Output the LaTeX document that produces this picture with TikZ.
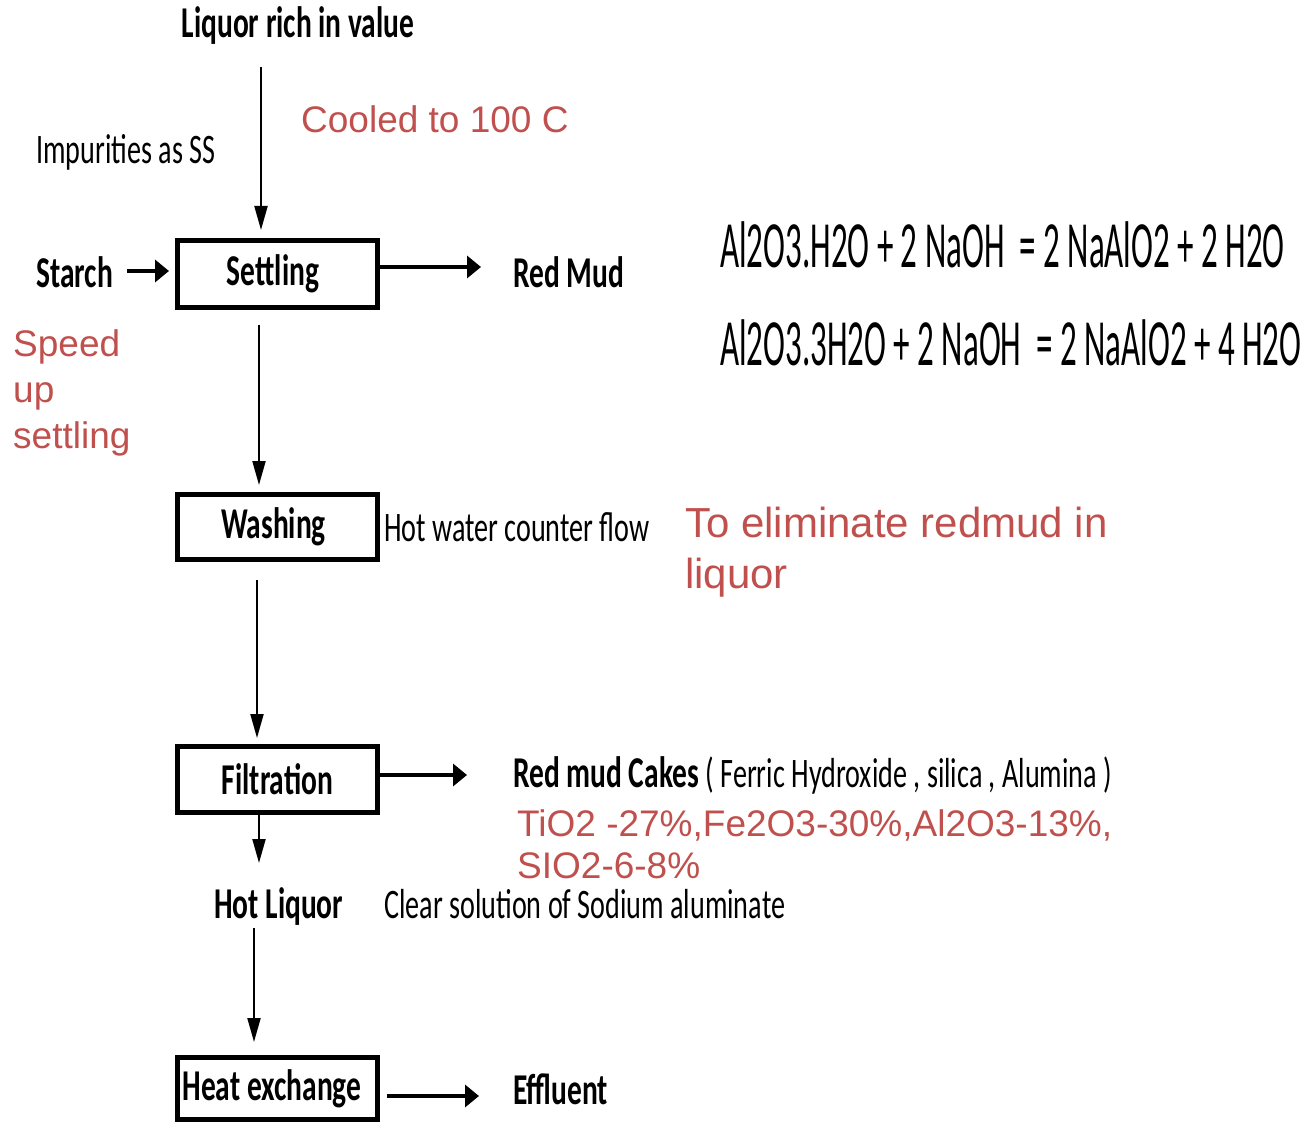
\documentclass[tikz,border=0pt]{standalone}
\usepackage{fontspec}
\usetikzlibrary{arrows.meta}
\newfontfamily\cnd[FakeStretch=0.67]{Carlito}
\newfontfamily\eqf[FakeStretch=0.5]{Carlito}
\setmainfont{Liberation Sans}
\definecolor{note}{HTML}{C0504D}
\tikzset{
  lbl/.style={inner sep=0pt, font=\cnd\fontsize{42}{48}\selectfont},
  blbl/.style={inner sep=0pt, font=\cnd\bfseries\fontsize{44}{50}\selectfont},
  rnote/.style={inner sep=0pt, text=note, font=\fontsize{37}{46}\selectfont, align=left},
  stage/.style={draw, line width=5pt, minimum width=200pt, inner sep=0pt,
    font=\cnd\bfseries\fontsize{44}{50}\selectfont},
  varrow/.style={line width=2pt, -{Triangle[length=24pt,width=13pt]}},
  harrow/.style={line width=3.5pt, -{Triangle[length=14pt,width=22pt]}}
}
\begin{document}
\begin{tikzpicture}[x=1pt,y=-1pt]
\useasboundingbox (0,0) rectangle (1307,1123);

% process stages
\node[stage, minimum height=67pt] (set) at (277.5,274) {Settling\hspace*{9pt}};
\node[stage, minimum height=65pt] (wash) at (277.5,527) {Washing\hspace*{8pt}};
\node[stage, minimum height=66pt] (filt) at (277.5,779.5) {Filtration};
\node[stage, minimum height=62pt] (heat) at (277.5,1088.5) {Heat exchange\hspace*{11pt}};

% labels
\node[blbl, anchor=base] (liq) at (298,38) {Liquor rich in value};
\node[lbl, anchor=base west] (imp) at (36,164) {Impurities as SS};
\node[blbl, anchor=base west] (starch) at (36,288) {Starch};
\node[blbl, anchor=base west] (mud) at (513,288) {Red Mud};
\node[lbl, anchor=base west] (hw) at (384,541) {Hot water counter flow};
\node[anchor=base west, inner sep=0pt] (cakes) at (513,787)
  {{\cnd\bfseries\fontsize{44}{50}\selectfont Red mud Cakes }{\cnd\fontsize{42}{48}\selectfont( Ferric Hydroxide , silica , Alumina )}};
\node[blbl, anchor=base west] (hot) at (214,918) {Hot Liquor};
\node[lbl, anchor=base west] (clear) at (384,918) {Clear solution of Sodium aluminate};
\node[blbl, anchor=base west] (eff) at (513,1104) {Effluent};

% reactions
\node[inner sep=0pt, anchor=base west, font=\eqf\fontsize{66}{70}\selectfont] (eq1) at (720,268)
  {Al2O3.H2O + 2 NaOH \ = 2 NaAlO2 + 2 H2O};
\node[inner sep=0pt, anchor=base west, font=\eqf\fontsize{66}{70}\selectfont] (eq2) at (720,366)
  {Al2O3.3H2O + 2 NaOH \ = 2 NaAlO2 + 4 H2O};

% notes
\node[rnote, anchor=base west] (cool) at (301,133) {Cooled to 100 C};
\node[rnote, anchor=north west, font=\fontsize{37}{46}\selectfont] (speed) at (13,329) {Speed\\up\\settling};
\node[rnote, anchor=north west, font=\fontsize{42}{51}\selectfont] (elim) at (685,507) {To eliminate redmud in\\liquor};
\node[rnote, anchor=north west, font=\fontsize{37}{42}\selectfont] (comp) at (517,809) {TiO2 -27\%,Fe2O3-30\%,Al2O3-13\%,\\SIO2-6-8\%};

% connectors
\coordinate (c1) at (261,67);
\draw[varrow, shorten >=8pt] (c1) -- (c1 |- set.north);
\coordinate (c2) at (259,325);
\draw[varrow, shorten >=7pt] (c2) -- (c2 |- wash.north);
\coordinate (c3) at (257,580);
\draw[varrow, shorten >=6pt] (c3) -- (c3 |- filt.north);
\coordinate (c4) at (259,815);
\draw[varrow] (c4) -- (259,863);
\coordinate (c5) at (254,928);
\draw[varrow, shorten >=13pt] (c5) -- (c5 |- heat.north);

\coordinate (s1) at (127,271);
\draw[harrow] (s1) -- (169,271);
\draw[harrow, shorten >=32pt] (set.east |- 0,267) -- (mud.west |- 0,267);
\draw[harrow, shorten >=46pt] (filt.east |- 0,775) -- (cakes.west |- 0,775);
\draw[harrow, shorten <=7pt, shorten >=34pt] (heat.east |- 0,1096) -- (eff.west |- 0,1096);
\end{tikzpicture}
\end{document}
